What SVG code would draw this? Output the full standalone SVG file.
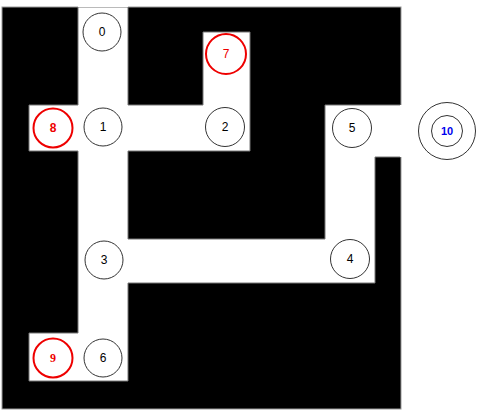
<svg xmlns="http://www.w3.org/2000/svg" width="480" height="412" viewBox="0 0 480 412">
<style>
.n circle{fill:none;stroke:#333;stroke-width:1}
.r circle{fill:none;stroke:#ee0000;stroke-width:2}
text{font-family:"Liberation Sans",Arial,sans-serif;font-size:12px;text-anchor:middle;dominant-baseline:central}
.n text{fill:#000}
.r text{fill:#ee0000}
</style>
<rect width="480" height="412" fill="#fff"/>
<g id="maze">
<rect x="2" y="7" width="399" height="402" fill="#000" stroke="#999" stroke-width="1"/>
<path d="M78,7 H128 V105 H203 V32 H250 V151 H128 V239 H325 V105 H401 V157 H375 V283 H128 V381 H29 V333 H78 V151 H29 V105 H78 Z" fill="#fff" stroke="#777" stroke-width="1"/>
<path d="M78,6 H128 M401,105 V157" stroke="#fff" stroke-width="2"/>
</g>
<g id="connectors"></g>
<g id="node0" class="n"><circle cx="102" cy="32" r="19"/><text x="102" y="32">0</text></g>
<g id="node1" class="n"><circle cx="103" cy="127" r="19"/><text x="103" y="127">1</text></g>
<g id="node2" class="n"><circle cx="225" cy="127" r="19.5"/><text x="225" y="127">2</text></g>
<g id="node3" class="n"><circle cx="104" cy="260" r="19"/><text x="104" y="260">3</text></g>
<g id="node4" class="n"><circle cx="350" cy="259" r="19.5"/><text x="350" y="259">4</text></g>
<g id="node5" class="n"><circle cx="352" cy="128" r="19.5"/><text x="352" y="128">5</text></g>
<g id="node6" class="n"><circle cx="103" cy="358" r="19"/><text x="103" y="358">6</text></g>
<g id="node7" class="r"><circle cx="226" cy="54" r="20"/><text x="226" y="54">7</text></g>
<g id="node8" class="r"><circle cx="53" cy="128" r="19.5"/><text x="53" y="128" font-weight="bold">8</text></g>
<g id="node9" class="r"><circle cx="53" cy="358" r="19.5"/><text x="53" y="358" font-weight="bold" style="font-family:'Liberation Serif',serif">9</text></g>
<g id="node10" class="n"><circle cx="447" cy="131" r="28.5"/><circle cx="447" cy="131" r="15.5"/><text x="447" y="131" fill="#0000ee" style="fill:#0000ee;font-weight:bold;font-size:11px">10</text></g>
</svg>
